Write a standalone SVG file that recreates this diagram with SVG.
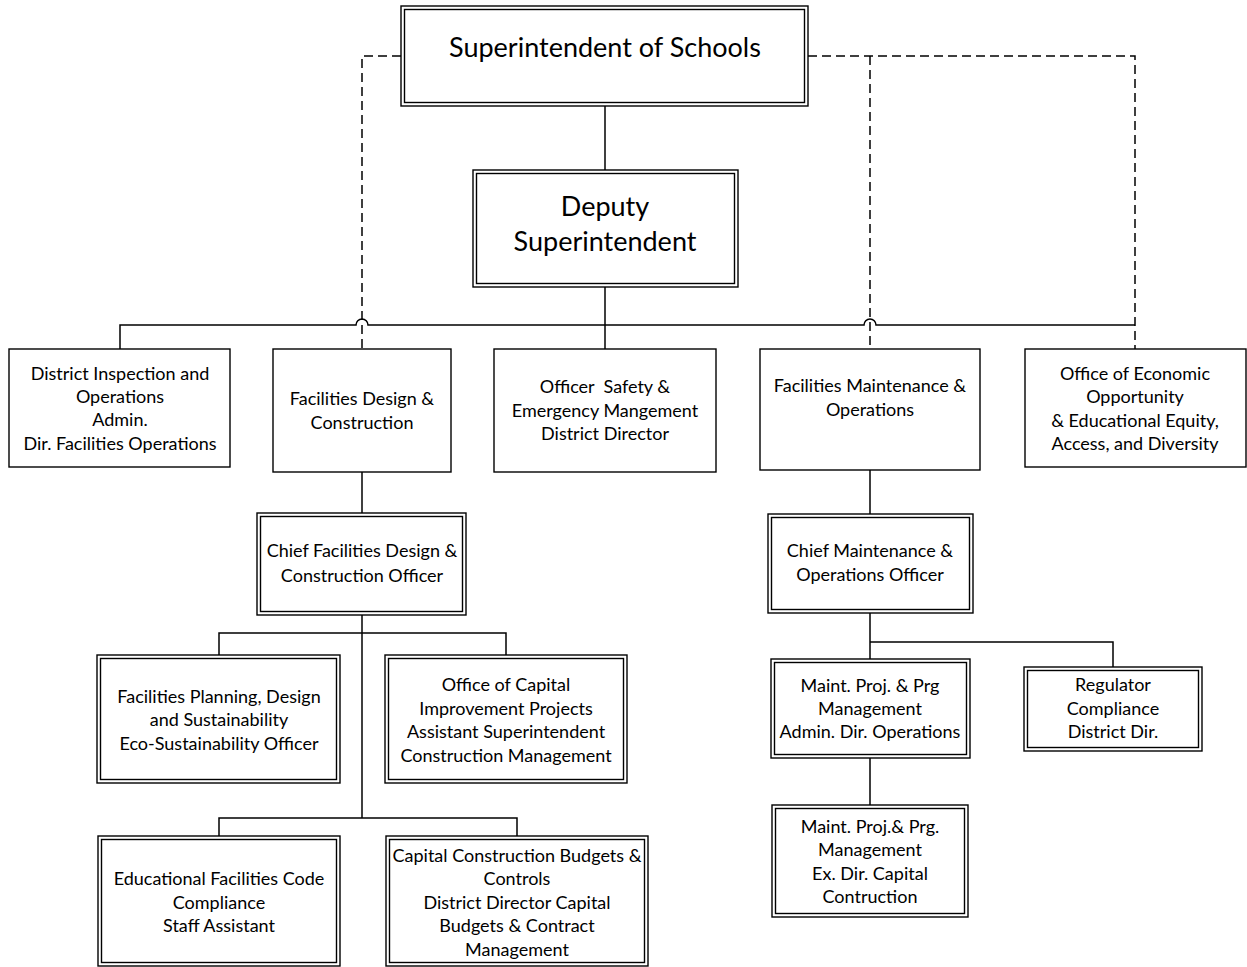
<svg xmlns="http://www.w3.org/2000/svg" width="1247" height="967" viewBox="0 0 1247 967">
  <style>
    .box { fill: #ffffff; stroke: #000000; stroke-width: 1.4; }
    .inner { fill: none; stroke: #000000; stroke-width: 1.4; }
    .link { fill: none; stroke: #000000; stroke-width: 1.5; }
    .dash { fill: none; stroke: #000000; stroke-width: 1.5; stroke-dasharray: 9 5; }
    text { font-family: Lato, "Liberation Sans", sans-serif; fill: #000000; text-anchor: middle; }
    .t { font-size: 18px; }
    .big { font-size: 27px; }
  </style>
  <rect width="1247" height="967" fill="#ffffff"/>

  <!-- connectors -->
  <g id="connectors">
    <!-- dotted-line reporting from the superintendent -->
    <path class="dash" d="M401 56 H362 V349"/>
    <path class="dash" d="M808 56 H1135 V349"/>
    <path class="dash" d="M870 56 V349"/>
    <!-- solid reporting lines -->
    <path class="link" d="M605 106 V170"/>
    <path class="link" d="M605 287 V325"/>
    <path class="link" d="M120 349 V325 H356 A6 6 0 0 1 368 325 H864 A6 6 0 0 1 876 325 H1135"/>
    <path class="link" d="M605 325 V349"/>
    <!-- design & construction branch -->
    <path class="link" d="M362 472 V513"/>
    <path class="link" d="M362 615 V818"/>
    <path class="link" d="M219 655 V633 H506 V655"/>
    <path class="link" d="M219 836 V818 H517 V836"/>
    <!-- maintenance & operations branch -->
    <path class="link" d="M870 470 V514"/>
    <path class="link" d="M870 613 V659"/>
    <path class="link" d="M870 642 H1113 V667"/>
    <path class="link" d="M870 758 V805"/>
  </g>

  <!-- top level -->
  <g id="superintendent">
    <rect class="box" x="401" y="6" width="407" height="100"/>
    <rect class="inner" x="404.5" y="9.5" width="400" height="93"/>
    <text class="big" x="605" y="57">Superintendent of Schools</text>
  </g>

  <g id="deputy">
    <rect class="box" x="473" y="170" width="265" height="117"/>
    <rect class="inner" x="476.5" y="173.5" width="258" height="110"/>
    <text class="big" x="605" y="216">Deputy</text>
    <text class="big" x="605" y="251">Superintendent</text>
  </g>

  <!-- divisions -->
  <g id="district-inspection">
    <rect class="box" x="9" y="349" width="221" height="118"/>
    <text class="t" x="120" y="380">District Inspection and</text>
    <text class="t" x="120" y="403">Operations</text>
    <text class="t" x="120" y="426">Admin.</text>
    <text class="t" x="120" y="450">Dir. Facilities Operations</text>
  </g>

  <g id="facilities-design">
    <rect class="box" x="273" y="349" width="178" height="123"/>
    <text class="t" x="362" y="405">Facilities Design &amp;</text>
    <text class="t" x="362" y="429">Construction</text>
  </g>

  <g id="safety">
    <rect class="box" x="494" y="349" width="222" height="123"/>
    <text class="t" x="605" y="393" xml:space="preserve">Officer  Safety &amp;</text>
    <text class="t" x="605" y="417">Emergency Mangement</text>
    <text class="t" x="605" y="440">District Director</text>
  </g>

  <g id="facilities-maintenance">
    <rect class="box" x="760" y="349" width="220" height="121"/>
    <text class="t" x="870" y="392">Facilities Maintenance &amp;</text>
    <text class="t" x="870" y="416">Operations</text>
  </g>

  <g id="economic-opportunity">
    <rect class="box" x="1025" y="349" width="221" height="118"/>
    <text class="t" x="1135" y="380">Office of Economic</text>
    <text class="t" x="1135" y="403">Opportunity</text>
    <text class="t" x="1135" y="427">&amp; Educational Equity,</text>
    <text class="t" x="1135" y="450">Access, and Diversity</text>
  </g>

  <!-- design & construction staff -->
  <g id="chief-design">
    <rect class="box" x="257" y="513" width="209" height="102"/>
    <rect class="inner" x="260.5" y="516.5" width="202" height="95"/>
    <text class="t" x="362" y="557">Chief Facilities Design &amp;</text>
    <text class="t" x="362" y="582">Construction Officer</text>
  </g>

  <g id="planning">
    <rect class="box" x="97" y="655" width="243" height="128"/>
    <rect class="inner" x="100.5" y="658.5" width="236" height="121"/>
    <text class="t" x="219" y="703">Facilities Planning, Design</text>
    <text class="t" x="219" y="726">and Sustainability</text>
    <text class="t" x="219" y="750">Eco-Sustainability Officer</text>
  </g>

  <g id="capital-improvement">
    <rect class="box" x="385" y="655" width="242" height="128"/>
    <rect class="inner" x="388.5" y="658.5" width="235" height="121"/>
    <text class="t" x="506" y="691">Office of Capital</text>
    <text class="t" x="506" y="715">Improvement Projects</text>
    <text class="t" x="506" y="738">Assistant Superintendent</text>
    <text class="t" x="506" y="762">Construction Management</text>
  </g>

  <g id="code-compliance">
    <rect class="box" x="98" y="836" width="242" height="130"/>
    <rect class="inner" x="101.5" y="839.5" width="235" height="123"/>
    <text class="t" x="219" y="885">Educational Facilities Code</text>
    <text class="t" x="219" y="909">Compliance</text>
    <text class="t" x="219" y="932">Staff Assistant</text>
  </g>

  <g id="capital-budgets">
    <rect class="box" x="386" y="836" width="262" height="130"/>
    <rect class="inner" x="389.5" y="839.5" width="255" height="123"/>
    <text class="t" x="517" y="862">Capital Construction Budgets &amp;</text>
    <text class="t" x="517" y="885">Controls</text>
    <text class="t" x="517" y="909">District Director Capital</text>
    <text class="t" x="517" y="932">Budgets &amp; Contract</text>
    <text class="t" x="517" y="956">Management</text>
  </g>

  <!-- maintenance & operations staff -->
  <g id="chief-maintenance">
    <rect class="box" x="768" y="514" width="205" height="99"/>
    <rect class="inner" x="771.5" y="517.5" width="198" height="92"/>
    <text class="t" x="870" y="557">Chief Maintenance &amp;</text>
    <text class="t" x="870" y="581">Operations Officer</text>
  </g>

  <g id="maint-operations">
    <rect class="box" x="771" y="659" width="199" height="99"/>
    <rect class="inner" x="774.5" y="662.5" width="192" height="92"/>
    <text class="t" x="870" y="692">Maint. Proj. &amp; Prg</text>
    <text class="t" x="870" y="715">Management</text>
    <text class="t" x="870" y="738">Admin. Dir. Operations</text>
  </g>

  <g id="regulator-compliance">
    <rect class="box" x="1024" y="667" width="178" height="84"/>
    <rect class="inner" x="1027.5" y="670.5" width="171" height="77"/>
    <text class="t" x="1113" y="691">Regulator</text>
    <text class="t" x="1113" y="715">Compliance</text>
    <text class="t" x="1113" y="738">District Dir.</text>
  </g>

  <g id="maint-capital">
    <rect class="box" x="772" y="805" width="196" height="112"/>
    <rect class="inner" x="775.5" y="808.5" width="189" height="105"/>
    <text class="t" x="870" y="833">Maint. Proj.&amp; Prg.</text>
    <text class="t" x="870" y="856">Management</text>
    <text class="t" x="870" y="880">Ex. Dir. Capital</text>
    <text class="t" x="870" y="903">Contruction</text>
  </g>
</svg>
